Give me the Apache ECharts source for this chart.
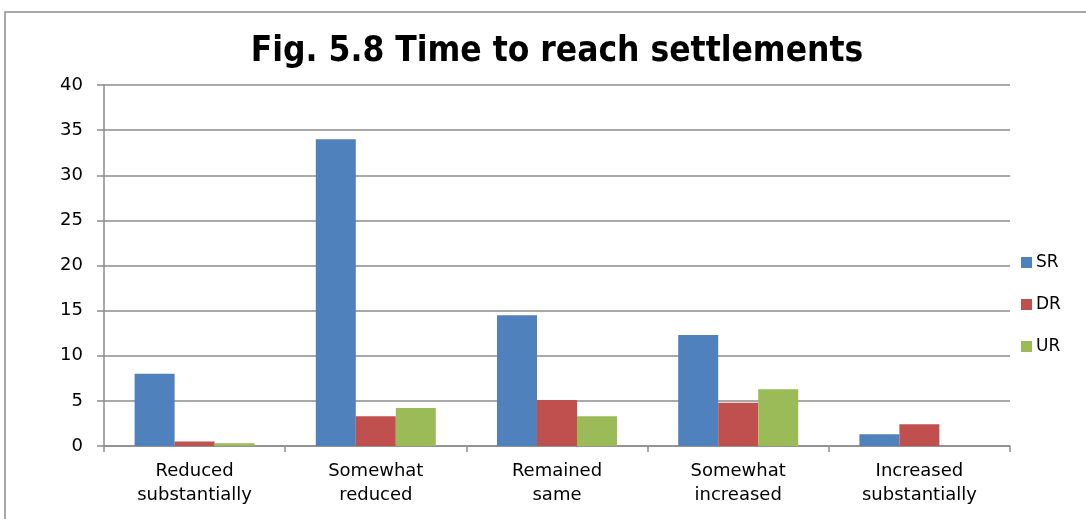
<!DOCTYPE html>
<html>
<head>
<meta charset="utf-8">
<script src="https://cdn.jsdelivr.net/npm/echarts@6/dist/echarts.min.js"></script>
<style>
  html, body { margin: 0; padding: 0; background: #fff; }
  #chart { width: 1086px; height: 519px; }
</style>
</head>
<body>
<div id="chart"></div>
<script>
// Response categories and survey shares per group
const categories = ['Reduced\nsubstantially', 'Somewhat\nreduced', 'Remained\nsame', 'Somewhat\nincreased', 'Increased\nsubstantially'];
const srValues = [8, 34, 14.5, 12.3, 1.3];
const drValues = [0.5, 3.3, 5.1, 4.8, 2.4];
const urValues = [0.3, 4.2, 3.3, 6.3, 0];
const yTicks = [0, 5, 10, 15, 20, 25, 30, 35, 40];

const titleFont = '"DejaVu Sans Condensed", "Open Sans", sans-serif';
const font = '"DejaVu Sans", "Open Sans", sans-serif';
const chart = echarts.init(document.getElementById('chart'));

chart.setOption({
  animation: false,
  backgroundColor: '#fff',
  graphic: [{
    type: 'rect',
    shape: { x: 5, y: 12, width: 1100, height: 520 },
    style: { fill: 'none', stroke: '#8c8c8c', lineWidth: 1.5 },
    silent: true
  }],
  title: {
    text: 'Fig. 5.8 Time to reach settlements',
    left: 552,
    textAlign: 'center',
    top: 29,
    textStyle: { fontFamily: titleFont, fontWeight: 'bold', fontSize: 35, color: '#000' }
  },
  legend: {
    orient: 'vertical',
    left: 1016,
    top: 249,
    itemWidth: 11,
    itemHeight: 11,
    itemGap: 25,
    icon: 'rect',
    textStyle: { fontFamily: font, fontSize: 17, color: '#000', padding: [0, 0, 0, -1] },
    data: ['SR', 'DR', 'UR']
  },
  grid: { left: 104, right: 76, top: 85, bottom: 73, containLabel: false },
  xAxis: {
    type: 'category',
    data: categories,
    axisLine: { lineStyle: { color: '#8c8c8c', width: 1.5 } },
    axisTick: { show: true, length: 6, lineStyle: { color: '#8c8c8c', width: 1.5 } },
    axisLabel: { fontFamily: font, fontSize: 18, color: '#000', margin: 13, lineHeight: 24, interval: 0 }
  },
  yAxis: {
    type: 'value',
    min: yTicks[0],
    max: yTicks[yTicks.length - 1],
    interval: 5,
    axisLine: { show: true, lineStyle: { color: '#8c8c8c', width: 1.5 } },
    axisTick: { show: true, length: 7, lineStyle: { color: '#8c8c8c', width: 1.5 } },
    axisLabel: { fontFamily: font, fontSize: 18, color: '#000', margin: 21 },
    splitLine: { lineStyle: { color: '#8c8c8c', width: 1.5 } }
  },
  series: [
    { name: 'SR', type: 'bar', data: srValues, barWidth: 40, barGap: '0%', itemStyle: { color: '#4F81BD' } },
    { name: 'DR', type: 'bar', data: drValues, barWidth: 40, barGap: '0%', itemStyle: { color: '#C0504D' } },
    { name: 'UR', type: 'bar', data: urValues, barWidth: 40, barGap: '0%', itemStyle: { color: '#9BBB59' } }
  ]
});
</script>
</body>
</html>
